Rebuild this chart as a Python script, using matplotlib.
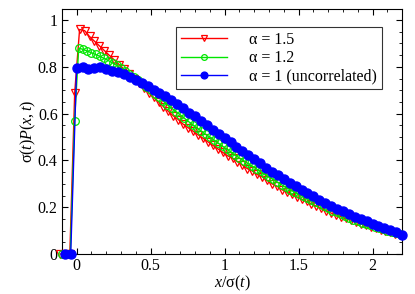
import numpy as np
import matplotlib
matplotlib.use("Agg")
import matplotlib.pyplot as plt
from matplotlib.ticker import MultipleLocator, FormatStrFormatter

plt.rcParams['font.family'] = ['Liberation Serif', 'DejaVu Serif']
plt.rcParams['mathtext.fontset'] = 'custom'
plt.rcParams['mathtext.rm'] = 'Liberation Serif'
plt.rcParams['mathtext.it'] = 'Liberation Serif:italic'

# x/sigma(t) sample positions for each series
red_x = np.round(-0.113 + np.arange(70) / 30, 3)
green_x = np.round(-0.1 + np.arange(81) / 35, 3)
blue_x = np.round(-0.08 + np.arange(58) * 0.04, 3)

# sigma(t) P(x,t), alpha = 1.5
red_y = [0, 0, 0, 0.69, 0.96, 0.955, 0.93, 0.91, 0.89, 0.87,
         0.85, 0.83, 0.81, 0.79, 0.77, 0.75, 0.73, 0.71, 0.69, 0.67,
         0.65, 0.63, 0.61, 0.59, 0.575, 0.555, 0.54, 0.525, 0.51, 0.495,
         0.48, 0.465, 0.45, 0.435, 0.42, 0.41, 0.395, 0.38, 0.365, 0.355,
         0.34, 0.33, 0.315, 0.30, 0.29, 0.275, 0.265, 0.255, 0.245, 0.235,
         0.225, 0.215, 0.205, 0.195, 0.185, 0.175, 0.167, 0.16, 0.152, 0.145,
         0.137, 0.13, 0.123, 0.117, 0.11, 0.104, 0.098, 0.092, 0.087, 0.082]

# alpha = 1.2
green_y = [0, 0, 0, 0.57, 0.88, 0.875, 0.868, 0.86, 0.853, 0.845,
           0.836, 0.827, 0.817, 0.806, 0.795, 0.783, 0.77, 0.757, 0.743, 0.729,
           0.715, 0.70, 0.685, 0.67, 0.654, 0.638, 0.623, 0.609, 0.595, 0.58,
           0.566, 0.552, 0.538, 0.525, 0.512, 0.50, 0.487, 0.474, 0.461, 0.449,
           0.436, 0.423, 0.41, 0.399, 0.387, 0.376, 0.364, 0.353, 0.341, 0.33,
           0.319, 0.307, 0.296, 0.285, 0.275, 0.265, 0.255, 0.246, 0.238, 0.229,
           0.221, 0.212, 0.204, 0.195, 0.186, 0.178, 0.169, 0.161, 0.154, 0.147,
           0.14, 0.134, 0.128, 0.122, 0.117, 0.111, 0.105, 0.10, 0.096, 0.091,
           0.087]

# alpha = 1 (uncorrelated)
blue_y = [0, 0, 0.795, 0.798, 0.793, 0.797, 0.798, 0.79, 0.783, 0.78,
          0.77, 0.755, 0.742, 0.73, 0.718, 0.703, 0.689, 0.674, 0.657, 0.64,
          0.623, 0.605, 0.588, 0.57, 0.551, 0.532, 0.514, 0.495, 0.477, 0.459,
          0.441, 0.423, 0.405, 0.387, 0.369, 0.352, 0.336, 0.32, 0.304, 0.289,
          0.274, 0.26, 0.246, 0.232, 0.219, 0.206, 0.194, 0.182, 0.171, 0.16,
          0.15, 0.14, 0.13, 0.121, 0.112, 0.103, 0.095, 0.082]

labels = ['α = 1.5', 'α = 1.2', 'α = 1 (uncorrelated)']

FS = 11.5
fig = plt.figure(figsize=(4.15, 2.94), dpi=100)
ax = fig.add_axes([0.149, 0.136, 0.820, 0.833])

ax.plot(red_x, red_y, color='#ff0000', lw=1.0, marker='v', ms=6,
        mfc='none', mec='#ff0000', mew=0.9, clip_on=False, label=labels[0], zorder=3)
ax.plot(green_x, green_y, color='#00e600', lw=1.0, marker='o', ms=5.5,
        mfc='none', mec='#00e600', mew=0.9, clip_on=False, label=labels[1], zorder=4)
ax.plot(blue_x, blue_y, color='#0000ff', lw=1.0, marker='o', ms=6.5,
        mfc='#0000ff', mec='#0000ff', clip_on=False, label=labels[2], zorder=5)

ax.set_xlim(-0.1, 2.2)
ax.set_ylim(0, 1.047)
ax.xaxis.set_major_locator(MultipleLocator(0.5))
ax.xaxis.set_minor_locator(MultipleLocator(0.1))
ax.yaxis.set_major_locator(MultipleLocator(0.2))
ax.yaxis.set_minor_locator(MultipleLocator(0.05))
ax.xaxis.set_major_formatter(FormatStrFormatter('%g'))
ax.yaxis.set_major_formatter(FormatStrFormatter('%g'))
ax.tick_params(which='both', direction='in', top=True, right=True, labelsize=FS)
ax.tick_params(which='major', length=4, width=0.8, pad=3)
ax.tick_params(which='minor', length=2, width=0.6)
for s in ax.spines.values():
    s.set_linewidth(0.8)

ax.set_xlabel(r'$x/\mathrm{σ}(t)$', fontsize=FS, labelpad=0)
ax.set_ylabel(r'$\mathrm{σ}(t)P(x,t)$', fontsize=FS, labelpad=0)

leg = ax.legend(loc='upper right', bbox_to_anchor=(0.941, 0.927), borderaxespad=0,
                fontsize=FS, frameon=True, fancybox=False, edgecolor='black',
                handlelength=2.9, handletextpad=1.4, labelspacing=0.15,
                borderpad=0.3, markerscale=0.75)
leg.get_frame().set_linewidth(0.8)

fig.savefig('out.png', dpi=100)
